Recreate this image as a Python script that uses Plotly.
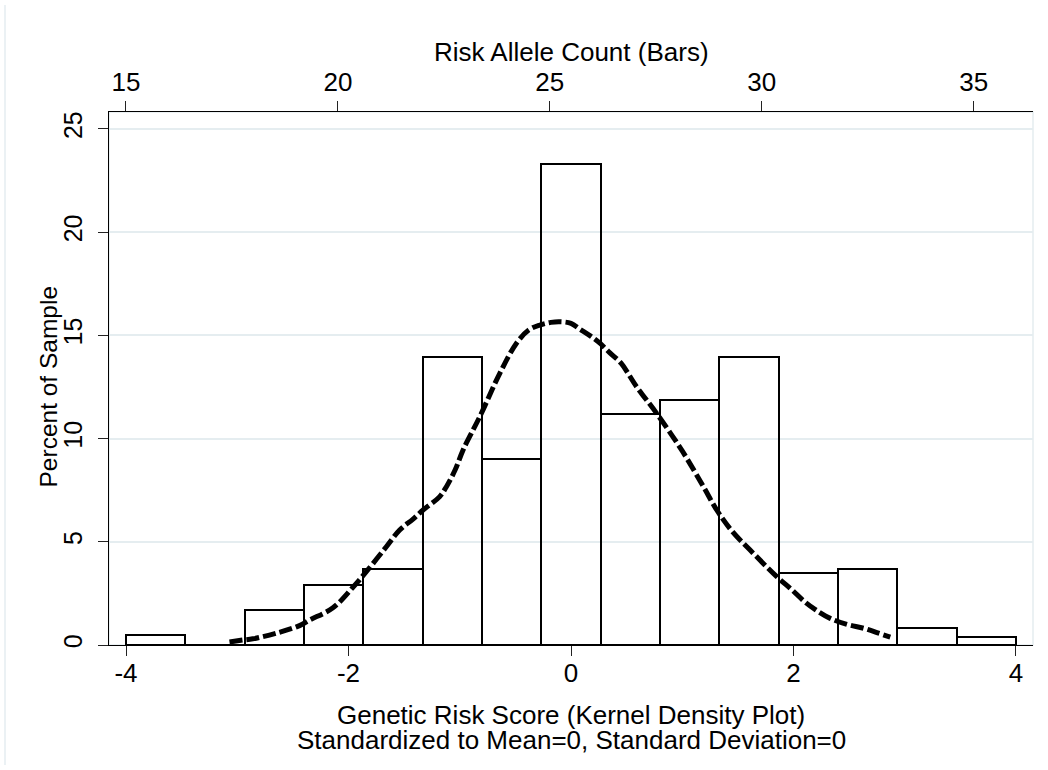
import plotly.graph_objects as go

# ---- data ----
allele_bin_edges = [15.0, 16.4, 17.8, 19.2, 20.6, 22.0, 23.4, 24.8, 26.2,
                    27.6, 29.0, 30.4, 31.8, 33.2, 34.6, 36.0]
percent_of_sample = [0.48, 0.0, 1.70, 2.91, 3.67, 13.97, 9.0, 23.29, 11.2,
                     11.86, 13.97, 3.50, 3.68, 0.81, 0.37]

kde_x = [-3.07, -2.95, -2.86, -2.65, -2.44, -2.35, -2.14, -1.96, -1.84, -1.66,
         -1.54, -1.42, -1.33, -1.18, -1.12, -1.04, -0.97, -0.82, -0.64, -0.49,
         -0.38, -0.28, -0.18, -0.10, 0.0, 0.08, 0.18, 0.26, 0.35, 0.45,
         0.59, 0.77, 1.0, 1.19, 1.31, 1.45, 1.61, 1.85, 1.98, 2.10,
         2.20, 2.33, 2.48, 2.63, 2.75, 2.87]
kde_y = [0.15, 0.24, 0.30, 0.57, 0.94, 1.21, 1.80, 2.80, 3.55, 4.76,
         5.57, 6.10, 6.54, 7.19, 7.67, 8.50, 9.45, 11.06, 13.16, 14.62,
         15.26, 15.50, 15.63, 15.66, 15.58, 15.30, 14.95, 14.62, 14.15, 13.65,
         12.51, 11.22, 9.40, 7.67, 6.54, 5.50, 4.60, 3.31, 2.70, 2.10,
         1.70, 1.29, 1.00, 0.81, 0.60, 0.38]

bottom_ticks = [-4, -2, 0, 2, 4]
top_ticks = [15, 20, 25, 30, 35]
y_ticks = [0, 5, 10, 15, 20, 25]

# ---- figure ----
W, H = 1048, 770
L, R, T, B = 109, 15, 112, 125
FONT = "Liberation Sans, Arial, Helvetica, sans-serif"
GRID = "#e5edf0"

centers = [(a + b) / 2 for a, b in zip(allele_bin_edges[:-1], allele_bin_edges[1:])]
widths = [b - a for a, b in zip(allele_bin_edges[:-1], allele_bin_edges[1:])]

fig = go.Figure()
fig.add_trace(go.Bar(
    x=centers, y=percent_of_sample, width=widths,
    xaxis="x2", yaxis="y",
    marker=dict(color="rgba(0,0,0,0)", line=dict(color="black", width=2)),
    hoverinfo="skip",
))
fig.add_trace(go.Scatter(
    x=kde_x, y=kde_y, mode="lines", xaxis="x", yaxis="y",
    line=dict(color="black", width=5, dash="13px,4px", shape="spline"),
    hoverinfo="skip",
))

axis_common = dict(
    ticks="outside", ticklen=10, tickwidth=1, tickcolor="#222",
    showline=True, linecolor="black", linewidth=1,
    showgrid=False, zeroline=False,
    tickfont=dict(family=FONT, size=26, color="black"),
)

fig.update_layout(
    width=W, height=H,
    margin=dict(l=L, r=R, t=T, b=B),
    paper_bgcolor="white", plot_bgcolor="white",
    showlegend=False, bargap=0,
    font=dict(family=FONT, color="black"),
    xaxis=dict(range=[-4.153, 4.153], tickvals=bottom_ticks,
               ticktext=[str(v) for v in bottom_ticks], anchor="y",
               ticklabelstandoff=-5, **axis_common),
    xaxis2=dict(range=[14.6, 36.4], tickvals=top_ticks, overlaying="x",
                side="top", anchor="y", **axis_common),
    yaxis=dict(range=[0, 25.82], tickvals=y_ticks, tickangle=-90,
               ticks="outside", ticklen=10, tickwidth=1, tickcolor="#222",
               showline=True, linecolor="black", linewidth=1,
               showgrid=True, gridcolor=GRID, gridwidth=1.5, zeroline=False,
               ticklabelstandoff=6,
               tickfont=dict(family=FONT, size=25, color="black")),
    shapes=[
        dict(type="rect", xref="paper", yref="paper", x0=0, x1=1, y0=0, y1=1,
             line=dict(color=GRID, width=1.5), layer="below"),
        dict(type="line", xref="paper", yref="paper",
             x0=(5 - L) / (W - L - R), x1=(5 - L) / (W - L - R),
             y0=(H - B - 765) / (H - T - B), y1=(H - B - 5) / (H - T - B),
             line=dict(color=GRID, width=1.5)),
    ],
    annotations=[
        dict(text="Risk Allele Count (Bars)", xref="paper", yref="paper",
             x=0.5, y=1, yshift=60, showarrow=False, xanchor="center", yanchor="middle",
             font=dict(family=FONT, size=26, color="black")),
        dict(text="Genetic Risk Score (Kernel Density Plot)", xref="paper", yref="paper",
             x=0.5, y=0, yshift=-70, showarrow=False, xanchor="center", yanchor="middle",
             font=dict(family=FONT, size=26, color="black")),
        dict(text="Standardized to Mean=0, Standard Deviation=0", xref="paper", yref="paper",
             x=0.5, y=0, yshift=-95, showarrow=False, xanchor="center", yanchor="middle",
             font=dict(family=FONT, size=26, color="black")),
        dict(text="Percent of Sample", xref="paper", yref="paper",
             x=0, xshift=-61, y=0.5, yshift=-8, textangle=-90, showarrow=False,
             xanchor="center", yanchor="middle",
             font=dict(family=FONT, size=24.5, color="black")),
    ],
)

fig.write_html("out.html", config={"displayModeBar": False},
               post_script="document.body.style.margin='0';")
